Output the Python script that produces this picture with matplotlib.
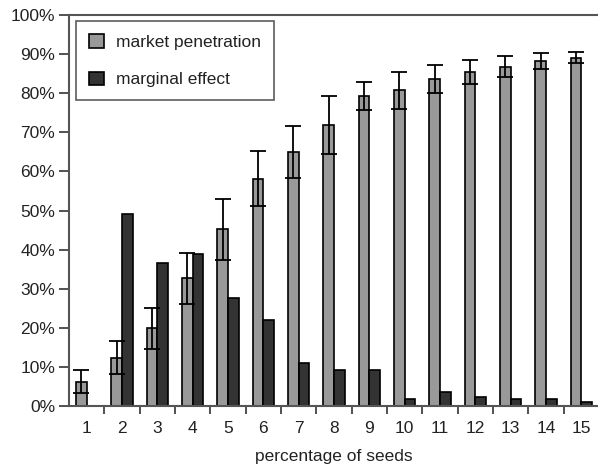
import matplotlib.pyplot as plt
import numpy as np

plt.rcParams['font.family'] = ['Liberation Sans', 'DejaVu Sans']

# percentage of seeds
seeds = list(range(1, 16))

# mean market penetration (%) and its spread
penetration = [6.2, 12.4, 19.9, 32.7, 45.2, 58.1, 65.0, 71.8, 79.3, 80.7,
               83.7, 85.5, 86.8, 88.2, 89.1]
penetration_err = [2.9, 4.3, 5.2, 6.5, 7.8, 7.0, 6.7, 7.4, 3.6, 4.7,
                   3.6, 3.1, 2.7, 2.1, 1.4]

# marginal effect (%) of one more percent of seeds
marginal = [0.0, 49.1, 36.7, 38.9, 27.7, 22.1, 11.1, 9.3, 9.3, 1.7,
            3.5, 2.2, 1.7, 1.7, 0.9]

FS = 12.5

fig = plt.figure(figsize=(5.98, 4.66), dpi=100)
ax = fig.add_axes([69 / 598, 60 / 466, 530 / 598, 391 / 466])

x = np.array(seeds)
w = 0.3
ax.bar(x - w / 2, penetration, w, color='#999999', edgecolor='black',
       linewidth=1.2, label='market penetration', zorder=2)
ax.bar(x + w / 2, marginal, w, color='#333333', edgecolor='black',
       linewidth=1.2, label='marginal effect', zorder=2)
ax.errorbar(x - w / 2, penetration, yerr=penetration_err, fmt='none',
            ecolor='black', elinewidth=1.3, capsize=5.5, capthick=1.3, zorder=3)

ax.set_xlim(0.5, 15.5)
ax.set_ylim(0, 100)

# ticks between the groups, labels under the group centres
ax.set_xticks(np.arange(1.5, 15.5, 1))
ax.set_xticklabels([])
ax.set_xticks(x, minor=True)
ax.set_xticklabels([str(s) for s in seeds], minor=True)
ax.tick_params(axis='x', which='major', length=6, width=1.2, color='#333333')
ax.tick_params(axis='x', which='minor', length=0, pad=11, labelsize=FS,
               labelcolor='#222222')

ax.set_yticks(np.arange(0, 101, 10))
ax.set_yticklabels([f'{v}%' for v in range(0, 101, 10)])
ax.tick_params(axis='y', length=7, width=1.2, color='#333333',
               labelsize=FS, labelcolor='#222222', pad=3)

for side in ['left', 'top', 'bottom']:
    ax.spines[side].set_color('#555555')
    ax.spines[side].set_linewidth(1.5)
ax.spines['right'].set_visible(False)

ax.set_xlabel('percentage of seeds', fontsize=FS, color='#222222', labelpad=9)

leg = ax.legend(loc='upper left', bbox_to_anchor=(0.013, 0.985), fontsize=FS,
                frameon=True, fancybox=False, handlelength=0.85, handleheight=0.85,
                labelspacing=1.25, borderpad=0.75, handletextpad=0.7,
                borderaxespad=0)
leg.get_frame().set_edgecolor('#333333')
leg.get_frame().set_linewidth(1.2)
for t in leg.get_texts():
    t.set_color('#222222')

fig.savefig('out.png', dpi=100)
